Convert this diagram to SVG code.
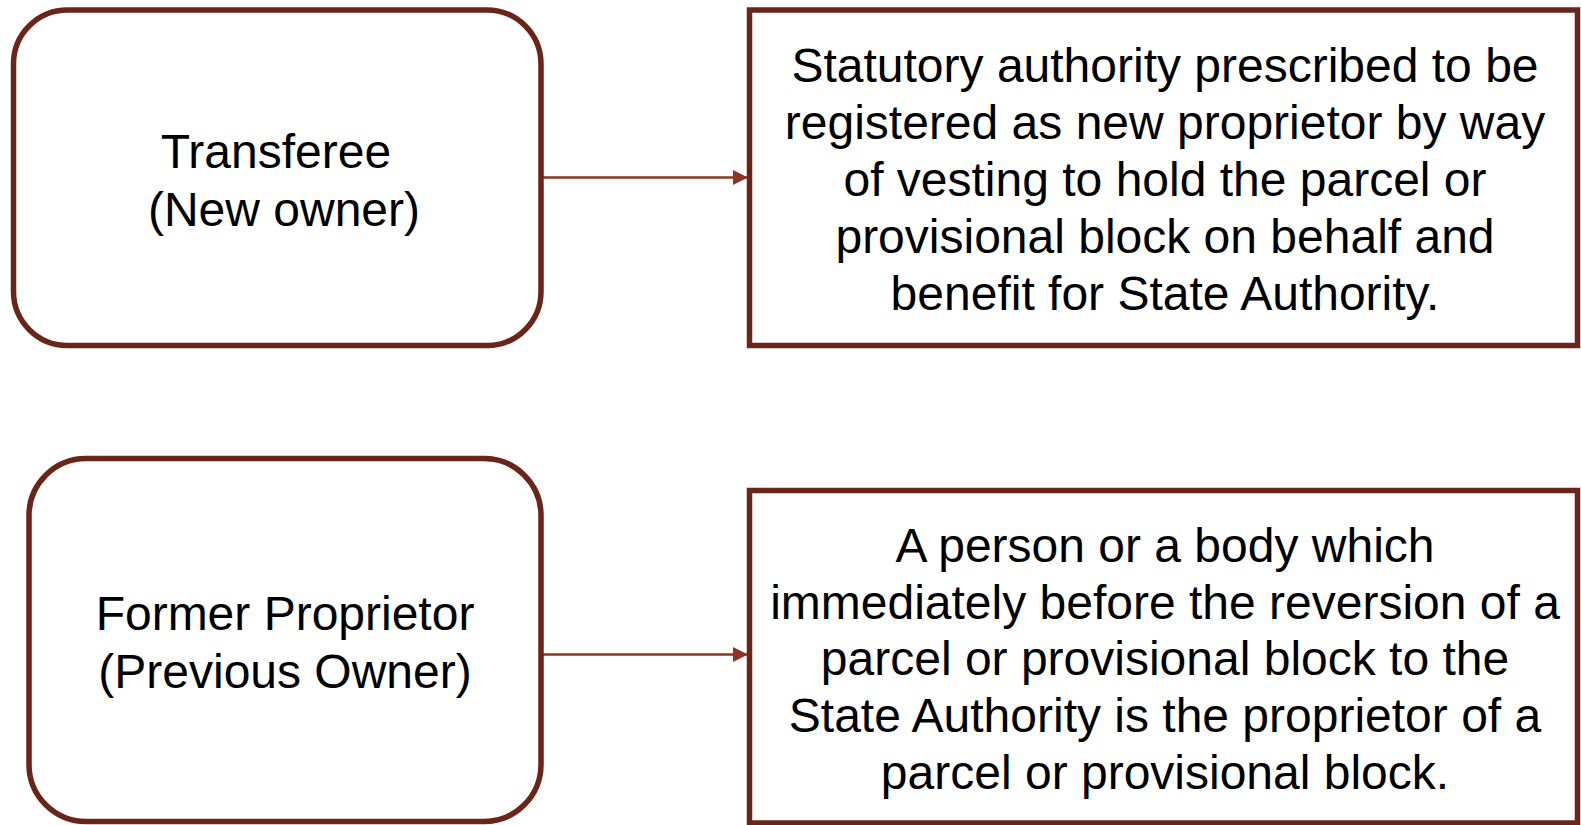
<svg xmlns="http://www.w3.org/2000/svg" width="1581" height="825" viewBox="0 0 1581 825">
  <style>
    .box { fill: #ffffff; stroke: #6a2519; stroke-width: 5.5; }
    .label { font-family: "Liberation Sans", Arial, sans-serif; font-size: 48px; fill: #000000; text-anchor: middle; }
    .link { stroke: #8c3523; stroke-width: 2.5; fill: none; }
  </style>
  <defs>
    <marker id="arrowhead" markerUnits="userSpaceOnUse" markerWidth="16" markerHeight="16" refX="15" refY="7.5" orient="auto">
      <path d="M0,0 L15,7.5 L0,15 Z" fill="#8c3523"/>
    </marker>
  </defs>
  <rect width="1581" height="825" fill="#ffffff"/>

  <!-- connectors -->
  <g id="connectors">
    <line class="link" x1="541" y1="177.5" x2="748" y2="177.5" marker-end="url(#arrowhead)"/>
    <line class="link" x1="541" y1="654.5" x2="748" y2="654.5" marker-end="url(#arrowhead)"/>
  </g>

  <g id="transferee">
    <rect class="box" x="13.5" y="10" width="527.5" height="335.5" rx="54" ry="54"/>
    <text class="label" x="276" y="168">Transferee</text>
    <text class="label" x="284" y="225.5">(New owner)</text>
  </g>

  <g id="statutory-authority">
    <rect class="box" x="749.5" y="10" width="828" height="335.5"/>
    <text class="label" x="1165" y="82">Statutory authority prescribed to be</text>
    <text class="label" x="1165" y="139">registered as new proprietor by way</text>
    <text class="label" x="1165" y="196">of vesting to hold the parcel or</text>
    <text class="label" x="1165" y="253">provisional block on behalf and</text>
    <text class="label" x="1165" y="310">benefit for State Authority.</text>
  </g>

  <g id="former-proprietor">
    <rect class="box" x="29" y="458.5" width="512" height="363" rx="57" ry="57"/>
    <text class="label" x="285" y="630">Former Proprietor</text>
    <text class="label" x="285" y="687.5">(Previous Owner)</text>
  </g>

  <g id="person-or-body">
    <rect class="box" x="749.5" y="490.5" width="828" height="332.5"/>
    <text class="label" x="1165" y="562">A person or a body which</text>
    <text class="label" x="1165" y="618.7">immediately before the reversion of a</text>
    <text class="label" x="1165" y="675.4">parcel or provisional block to the</text>
    <text class="label" x="1165" y="732.1">State Authority is the proprietor of a</text>
    <text class="label" x="1165" y="788.8">parcel or provisional block.</text>
  </g>
</svg>
